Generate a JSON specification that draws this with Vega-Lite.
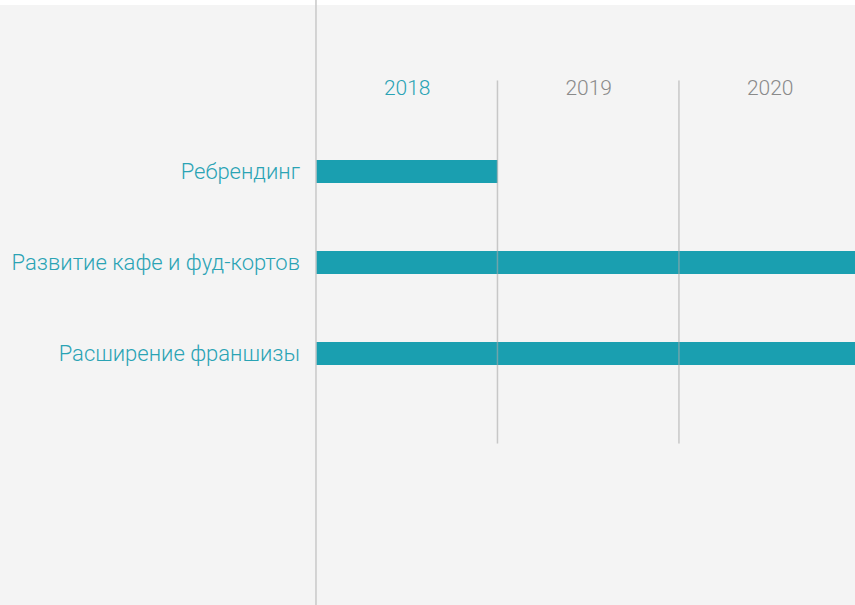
{
  "$schema": "https://vega.github.io/schema/vega-lite/v6.json",
  "width": 855,
  "height": 600,
  "autosize": {"type": "none"},
  "padding": {"top": 5, "left": 0, "right": 0, "bottom": 0},
  "background": "white",
  "config": {"view": {"fill": "#f4f4f4", "stroke": null}, "font": "Roboto"},
  "datasets": {
    "tasks": [
      {"task": "Ребрендинг", "row": 1, "start": 2018, "end": 2019},
      {"task": "Развитие кафе и фуд-кортов", "row": 2, "start": 2018, "end": 2021},
      {"task": "Расширение франшизы", "row": 3, "start": 2018, "end": 2021}
    ],
    "dividers": [
      {"year": 2019, "from": 0, "to": 3.99},
      {"year": 2020, "from": 0, "to": 3.99}
    ],
    "origin": [{"year": 2018, "from": -0.89, "to": 5.8}]
  },
  "layer": [
    {
      "data": {"name": "tasks"},
      "mark": {"type": "bar", "color": "#1a9fb0", "height": 23, "clip": true},
      "encoding": {
        "x": {
          "field": "start", "type": "quantitative",
          "scale": {"domain": [2016.259, 2020.970], "nice": false, "zero": false, "padding": 0},
          "axis": {
            "orient": "top", "values": [2018.5, 2019.5, 2020.5],
            "labelExpr": "floor(datum.value)", "title": null,
            "domain": false, "ticks": false, "tickSize": 0, "grid": false,
            "offset": -83, "labelPadding": 0, "labelBaseline": "middle",
            "labelFontSize": 21, "labelFont": "Roboto", "labelFontWeight": 300,
            "labelColor": {"condition": {"test": "datum.value < 2019", "value": "#2aa3b4"}, "value": "#8a8a8a"}
          }
        },
        "x2": {"field": "end"},
        "y": {
          "field": "row", "type": "quantitative",
          "scale": {"domain": [-0.8297, 5.7637], "reverse": true, "nice": false, "zero": false, "padding": 0},
          "axis": null
        }
      }
    },
    {
      "data": {"name": "tasks"},
      "mark": {"type": "text", "align": "right", "baseline": "middle", "dx": -16, "fontSize": 22, "fontWeight": 300, "color": "#2aa3b4", "font": "Roboto"},
      "encoding": {
        "x": {"datum": 2018, "type": "quantitative"},
        "y": {"field": "row", "type": "quantitative"},
        "text": {"field": "task"}
      }
    },
    {
      "data": {"name": "dividers"},
      "mark": {"type": "rule", "stroke": "#a8a8a8", "strokeOpacity": 0.6, "strokeWidth": 1.5},
      "encoding": {
        "x": {"field": "year", "type": "quantitative"},
        "y": {"field": "from", "type": "quantitative"},
        "y2": {"field": "to"}
      }
    },
    {
      "data": {"name": "origin"},
      "mark": {"type": "rule", "stroke": "#c8c8c8", "strokeWidth": 1.5, "clip": false},
      "encoding": {
        "x": {"field": "year", "type": "quantitative"},
        "y": {"field": "from", "type": "quantitative"},
        "y2": {"field": "to"}
      }
    }
  ]
}
